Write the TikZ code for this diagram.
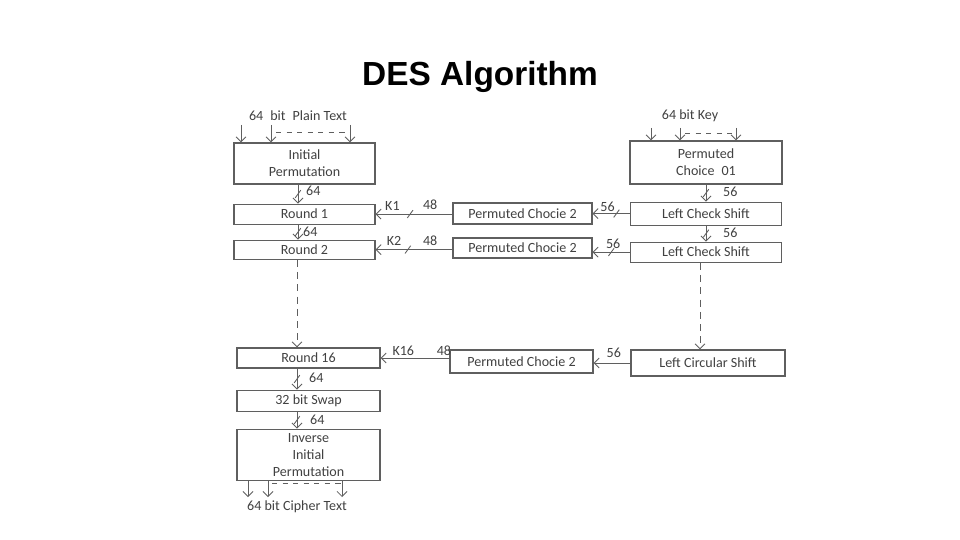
\documentclass[tikz,border=0pt]{standalone}
\usepackage{fontspec}
\setmainfont{Carlito}
\newfontfamily\titlefont{Liberation Sans}
\usetikzlibrary{positioning, arrows.meta}
\definecolor{linegray}{RGB}{95,95,95}
\definecolor{textgray}{RGB}{65,65,65}

\begin{document}
\begin{tikzpicture}[
    node distance=0.35cm,
    block/.style={rectangle, draw=linegray, line width=0.6pt, minimum width=2.82cm, minimum height=0.4cm,
                  inner sep=1pt, text centered, align=center, font=\fontsize{8}{9.7}\selectfont, text=textgray},
    tag/.style={font=\fontsize{8}{9}\selectfont, text=textgray, inner sep=1pt},
    arrow/.style={-{Straight Barb[length=1mm, width=2mm]}, line width=0.5pt, linegray},
    dashline/.style={dashed, line width=0.5pt, linegray},
    tick/.pic={\draw[-, line width=0.5pt, linegray] (-1.6pt,-2.2pt) -- (1.6pt,2.2pt);}
]
\useasboundingbox (0,0) rectangle (19.2,-10.8);

% Title
\node[font=\titlefont\fontsize{19}{22}\selectfont\bfseries] (title) at (9.6,-1.54) {DES Algorithm};

% Data path
\node[block, minimum height=0.82cm] (ip) at (6.09,-3.27) {Initial\\Permutation};
\node[block, below=0.38cm of ip] (r1) {Round 1};
\node[block, below=0.3cm of r1, minimum height=0.38cm] (r2) {Round 2};
\node[block, minimum width=2.86cm] (r16) at (6.17,-7.16) {Round 16};
\node[block, minimum width=2.86cm, minimum height=0.42cm, below=0.42cm of r16] (swap) {32 bit Swap};
\node[block, minimum width=2.86cm, minimum height=1.02cm, below=0.34cm of swap] (iip) {Inverse\\Initial\\Permutation};

% Key schedule
\node[block, minimum width=3.04cm, minimum height=0.86cm] (pc01) at (14.12,-3.25) {Permuted\\Choice\enspace 01};
\node[block, minimum width=3.02cm, minimum height=0.46cm, below=0.34cm of pc01] (lcs1) {Left Check Shift};
\node[block, minimum width=3.02cm, below=0.32cm of lcs1] (lcs2) {Left Check Shift};
\node[block, minimum width=3.08cm, minimum height=0.52cm] (lcirc) at (14.16,-7.26) {Left Circular Shift};

% Permuted choice 2
\node[block, minimum width=2.78cm, minimum height=0.42cm] (pc2a) at (10.45,-4.27) {Permuted Chocie 2};
\node[block, minimum width=2.78cm] (pc2b) at (10.45,-4.96) {Permuted Chocie 2};
\node[block, minimum width=2.86cm, minimum height=0.46cm] (pc2c) at (10.43,-7.23) {Permuted Chocie 2};

% Plain text input
\node[tag] (plain) at (5.96,-2.32) {64\enspace bit\enspace Plain Text};
\coordinate (pt1) at (4.82,-2.5);
\coordinate (pt2) at (5.42,-2.5);
\coordinate (pt3) at (7.0,-2.5);
\draw[arrow] (pt1) -- (pt1 |- ip.north);
\draw[arrow] (pt2) -- (pt2 |- ip.north);
\draw[arrow] (pt3) -- (pt3 |- ip.north);
\draw[dashline] ([xshift=0.1cm, yshift=-0.14cm]pt2) -- ([yshift=-0.14cm]pt3);

% Key input
\node[tag] (key) at (13.8,-2.32) {64 bit Key};
\coordinate (k1) at (13.02,-2.56);
\coordinate (k2) at (13.6,-2.56);
\coordinate (k3) at (14.72,-2.56);
\draw[arrow] (k1) -- (k1 |- pc01.north);
\draw[arrow] (k2) -- (k2 |- pc01.north);
\draw[arrow] (k3) -- (k3 |- pc01.north);
\draw[dashline] ([xshift=0.1cm, yshift=-0.1cm]k2) -- ([yshift=-0.1cm]k3);

% Flow arrows, data path
\draw[arrow] ([xshift=-0.13cm]ip.south) -- pic[pos=.5]{tick} node[tag, right=0.12cm, pos=.35] {64} ([xshift=-0.13cm]r1.north);
\draw[arrow] ([xshift=-0.13cm]r1.south) -- pic[pos=.5]{tick} node[tag, right=0.06cm, pos=.45] {64} ([xshift=-0.13cm]r2.north);
\draw[arrow, dash pattern=on 4pt off 3pt] ([xshift=-0.15cm]r2.south) -- ([xshift=-0.15cm]r2.south |- r16.north);
\draw[arrow] ([xshift=-0.23cm]r16.south) -- pic[pos=.5]{tick} node[tag, right=0.2cm, pos=.45] {64} ([xshift=-0.23cm]swap.north);
\draw[arrow] ([xshift=-0.23cm]swap.south) -- pic[pos=.5]{tick} node[tag, right=0.22cm, pos=.5] {64} ([xshift=-0.23cm]iip.north);

% Cipher text output
\coordinate (ct1) at (4.96,-9.94);
\coordinate (ct2) at (5.36,-9.94);
\coordinate (ct3) at (6.84,-9.94);
\draw[arrow] (ct1 |- iip.south) -- (ct1);
\draw[arrow] (ct2 |- iip.south) -- (ct2);
\draw[arrow] (ct3 |- iip.south) -- (ct3);
\draw[dashline] ([xshift=0.08cm, yshift=0.28cm]ct2) -- ([yshift=0.28cm]ct3);
\node[tag] (cipher) at (5.94,-10.14) {64 bit Cipher Text};

% Flow arrows, key schedule
\draw[arrow] (pc01.south) -- pic[pos=.5]{tick} node[tag, right=0.3cm, pos=.45] {56} (pc01.south |- lcs1.north);
\draw[arrow] (lcs1.south) -- pic[pos=.5]{tick} node[tag, right=0.3cm, pos=.45] {56} (lcs1.south |- lcs2.north);
\draw[arrow, dash pattern=on 4pt off 3pt] ([xshift=-0.12cm]lcs2.south) -- ([xshift=-0.12cm]lcs2.south |- lcirc.north);

% Subkeys
\draw[arrow] (lcs1.west) -- pic[pos=.36]{tick} node[tag, above, pos=.6] {56} (lcs1.west -| pc2a.east);
\draw[arrow] (lcs2.west) -- pic[pos=.5]{tick} node[tag, above=1pt, pos=.45] {56} (lcs2.west -| pc2b.east);
\draw[arrow] (lcirc.west) -- node[tag, above=2pt, pos=.45] {56} (lcirc.west -| pc2c.east);
\draw[arrow] (r1.east -| pc2a.west) -- pic[pos=.55]{tick} node[tag, above=1pt, pos=.29] {48} node[tag, above=1pt, pos=.78] {K1} (r1.east);
\draw[arrow] (r2.east -| pc2b.west) -- pic[pos=.58]{tick} node[tag, above=1pt, pos=.29] {48} node[tag, above=1pt, pos=.76] {K2} (r2.east);
\draw[arrow] (r16.east -| pc2c.west) -- node[tag, above, pos=.08] {48} node[tag, above, pos=.67] {K16} (r16.east);

\end{tikzpicture}
\end{document}
